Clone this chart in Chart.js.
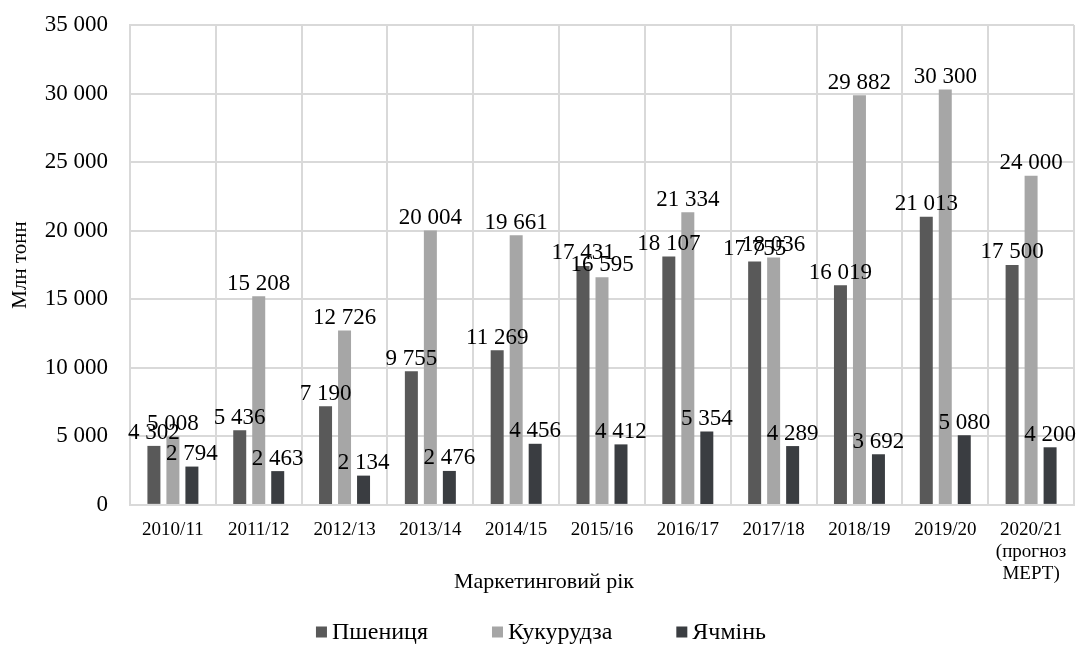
<!DOCTYPE html>
<html>
<head>
<meta charset="utf-8">
<script src="https://cdn.jsdelivr.net/npm/chart.js@4"></script>
<style>
  html, body { margin: 0; padding: 0; background: #fff; }
  #wrap { width: 1082px; height: 646px; }
</style>
</head>
<body>
<div id="wrap"><canvas id="grainChart"></canvas></div>
<script>
'use strict';

// Дані
const years = ['2010/11', '2011/12', '2012/13', '2013/14', '2014/15', '2015/16',
  '2016/17', '2017/18', '2018/19', '2019/20', ['2020/21', '(прогноз', 'МЕРТ)']];
const wheat = [4302, 5436, 7190, 9755, 11269, 17431, 18107, 17755, 16019, 21013, 17500];
const corn = [5008, 15208, 12726, 20004, 19661, 16595, 21334, 18036, 29882, 30300, 24000];
const barley = [2794, 2463, 2134, 2476, 4456, 4412, 5354, 4289, 3692, 5080, 4200];
const yTicks = [0, 5000, 10000, 15000, 20000, 25000, 30000, 35000];

const serif = '"Liberation Serif", "Times New Roman", serif';
const xTitle = 'Маркетинговий рік';

function fmt(v) {
  return String(v).replace(/\B(?=(\d{3})+(?!\d))/g, ' ');
}

// Підписи над стовпцями
const valueLabels = {
  id: 'valueLabels',
  afterDatasetsDraw(chart) {
    const ctx = chart.ctx;
    ctx.save();
    ctx.font = '23px ' + serif;
    ctx.fillStyle = '#000';
    ctx.textAlign = 'center';
    ctx.textBaseline = 'bottom';
    chart.data.datasets.forEach((ds, i) => {
      chart.getDatasetMeta(i).data.forEach((bar, j) => {
        ctx.fillText(fmt(ds.data[j]), bar.x, bar.y - 1);
      });
    });
    ctx.restore();
  }
};

// Назва осі X та легенда внизу
const bottomParts = {
  id: 'bottomParts',
  afterDraw(chart) {
    const ctx = chart.ctx;
    const cx = chart.width / 2;
    ctx.save();
    ctx.fillStyle = '#000';
    ctx.textBaseline = 'middle';
    ctx.font = '22px ' + serif;
    ctx.textAlign = 'center';
    ctx.fillText(xTitle, cx + 3, 582);

    ctx.font = '24px ' + serif;
    ctx.textAlign = 'left';
    const box = 11, gap = 5, spacing = 64;
    const items = chart.data.datasets.map(ds => ({
      text: ds.label, color: ds.backgroundColor,
      w: box + gap + ctx.measureText(ds.label).width
    }));
    const total = items.reduce((s, it) => s + it.w, 0) + spacing * (items.length - 1);
    let x = cx - total / 2;
    const y = 632;
    items.forEach(it => {
      ctx.fillStyle = it.color;
      ctx.fillRect(x, y - box / 2, box, box);
      ctx.fillStyle = '#000';
      ctx.fillText(it.text, x + box + gap, y + 1);
      x += it.w + spacing;
    });
    ctx.restore();
  }
};

new Chart(document.getElementById('grainChart'), {
  type: 'bar',
  data: {
    labels: years,
    datasets: [
      { label: 'Пшениця', data: wheat, backgroundColor: '#595959' },
      { label: 'Кукурудза', data: corn, backgroundColor: '#a6a6a6' },
      { label: 'Ячмінь', data: barley, backgroundColor: '#3a3d41' }
    ]
  },
  options: {
    responsive: true,
    maintainAspectRatio: false,
    animation: false,
    layout: { padding: { left: 0, right: 8, top: 0, bottom: 47 } },
    datasets: { bar: { categoryPercentage: 0.664, barPercentage: 0.684 } },
    scales: {
      x: {
        grid: { color: '#d9d9d9', lineWidth: 2, offset: true, drawTicks: false },
        border: { color: '#d9d9d9', width: 2 },
        ticks: { color: '#000', font: { family: serif, size: 19, lineHeight: 1.16 }, maxRotation: 0, padding: 14 }
      },
      y: {
        min: 0,
        max: 35000,
        afterBuildTicks(axis) { axis.ticks = yTicks.map(v => ({ value: v })); },
        afterFit(axis) {
          axis.width = 130;
          axis.paddingTop = 25;
          axis.paddingBottom = 0;
        },
        grid: { color: '#d9d9d9', lineWidth: 2, drawTicks: false },
        border: { color: '#d9d9d9', width: 2 },
        ticks: { color: '#000', font: { family: serif, size: 23 }, padding: 22, callback: v => fmt(v) },
        title: { display: true, text: 'Млн тонн', color: '#000', font: { family: serif, size: 21 }, padding: { top: 8, bottom: 0 } }
      }
    },
    plugins: {
      legend: { display: false },
      tooltip: { enabled: false }
    }
  },
  plugins: [valueLabels, bottomParts]
});
</script>
</body>
</html>
